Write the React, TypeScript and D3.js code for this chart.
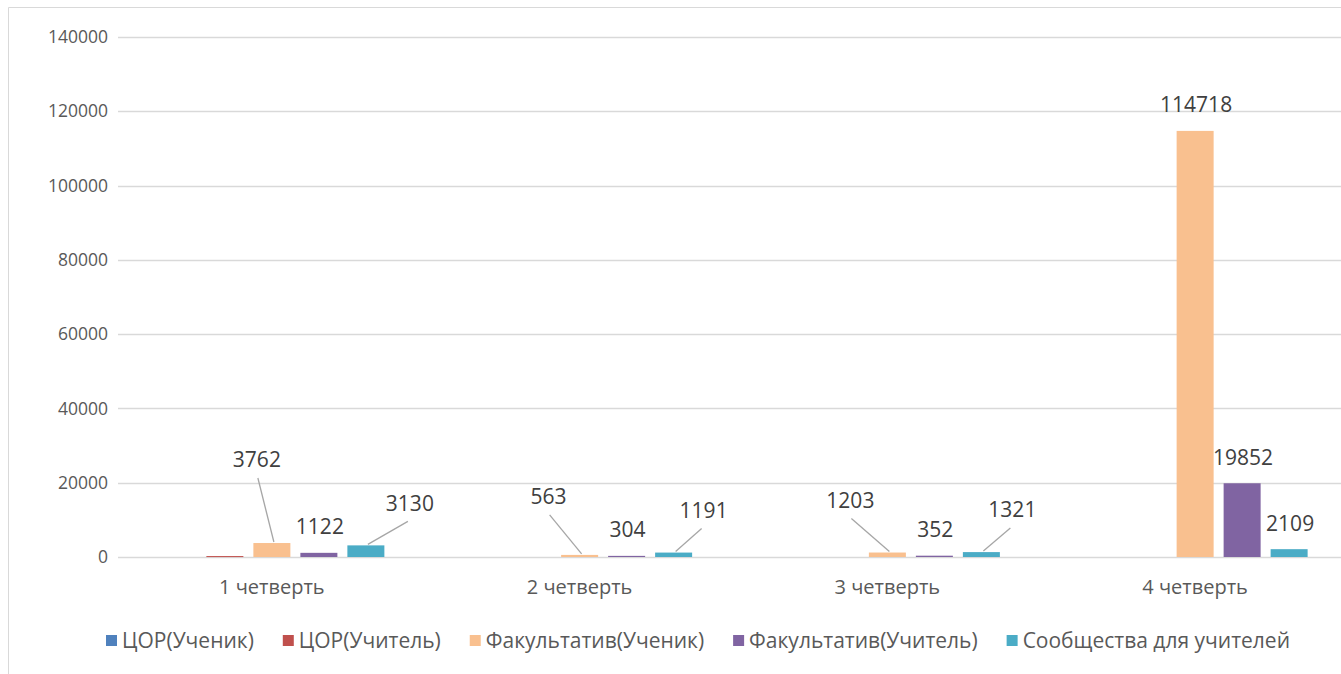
import { useRef, useEffect } from 'react';
import * as d3 from 'd3';

// quarters on the x axis
const quarters = ['1 четверть', '2 четверть', '3 четверть', '4 четверть'];

const seriesNames = [
    'ЦОР(Ученик)',
    'ЦОР(Учитель)',
    'Факультатив(Ученик)',
    'Факультатив(Учитель)',
    'Сообщества для учителей',
];

const seriesColors = ['#4F81BD', '#C0504D', '#F9C08F', '#8064A2', '#4BACC6'];

// values per series, one per quarter
const corStudent = [0, 0, 0, 0];
const corTeacher = [250, 0, 0, 0];
const facStudent = [3762, 563, 1203, 114718];
const facTeacher = [1122, 304, 352, 19852];
const communities = [3130, 1191, 1321, 2109];

const seriesValues = [corStudent, corTeacher, facStudent, facTeacher, communities];

// which series carry data labels
const labelledSeries = [false, false, true, true, true];

const yTicks = [0, 20000, 40000, 60000, 80000, 100000, 120000, 140000];

// label nudges (label centre from bar top), those with a leader line
const labelNudge: Record<string, [number, number, boolean]> = {
    '0-2': [-15, -83, true],
    '0-4': [44, -42, true],
    '1-2': [-31, -58, true],
    '1-4': [30, -42, true],
    '2-2': [-37, -52, true],
    '2-4': [31, -42, true],
};

const W = 1341;
const H = 674;
const FONT = '"Open Sans", sans-serif';

export default function App() {
    const svgRef = useRef<SVGSVGElement | null>(null);

    useEffect(() => {
        if (!svgRef.current) return;
        const svg = d3.select(svgRef.current);
        svg.selectAll('*').remove();

        const x0 = d3.scaleBand().domain(quarters).range([118, 1349]);
        const y = d3.scaleLinear().domain([0, 140000]).range([557, 37]);

        // chart frame (only top + left visible)
        svg.append('line').attr('x1', 8.5).attr('x2', 8.5).attr('y1', 7.5).attr('y2', H)
            .attr('stroke', '#d9d9d9');
        svg.append('line').attr('x1', 8.5).attr('x2', W).attr('y1', 7.5).attr('y2', 7.5)
            .attr('stroke', '#d9d9d9');

        // gridlines
        svg.append('g').selectAll('line').data(yTicks).join('line')
            .attr('x1', 118).attr('x2', W)
            .attr('y1', d => Math.round(y(d)) + 0.5).attr('y2', d => Math.round(y(d)) + 0.5)
            .attr('stroke', '#d9d9d9').attr('stroke-width', 1.3);

        svg.append('g').selectAll('text').data(yTicks).join('text')
            .attr('x', 108).attr('y', d => y(d))
            .attr('dy', '0.35em').attr('text-anchor', 'end')
            .style('font-family', FONT).style('font-size', '17.5px').attr('fill', '#595959')
            .text(d => d);

        svg.append('g').selectAll('text').data(quarters).join('text')
            .attr('x', d => x0(d)! + x0.bandwidth() / 2).attr('y', 587)
            .attr('dy', '0.35em').attr('text-anchor', 'middle')
            .style('font-family', FONT).style('font-size', '20px').attr('fill', '#595959')
            .text(d => d);

        const groupW = 225;
        const x1 = d3.scaleBand<number>().domain(d3.range(seriesNames.length))
            .range([0, groupW]).paddingInner(10 / 47);

        const bars = quarters.flatMap((q, qi) =>
            seriesValues.map((vals, si) => ({ q, qi, si, v: vals[qi] })));

        const barX = (d: { q: string; si: number }) =>
            x0(d.q)! + x0.bandwidth() / 2 - groupW / 2 + x1(d.si)!;

        svg.append('g').selectAll('rect').data(bars.filter(d => d.v > 0)).join('rect')
            .attr('x', d => barX(d))
            .attr('y', d => y(d.v))
            .attr('width', x1.bandwidth())
            .attr('height', d => Math.max(1, y(0) - y(d.v)))
            .attr('fill', d => seriesColors[d.si]);

        // data labels
        const labels = bars.filter(d => labelledSeries[d.si]);
        const lg = svg.append('g');
        labels.forEach(d => {
            const cx = barX(d) + x1.bandwidth() / 2;
            const top = y(d.v);
            const nudge = labelNudge[`${d.qi}-${d.si}`];
            const dx = nudge ? nudge[0] : 1;
            const dy = nudge ? nudge[1] : -26;
            const lx = cx + dx;
            const ly = top + dy;
            if (nudge && nudge[2]) {
                const sx = dx < 0 ? lx + 1 : lx - 2;
                lg.append('line')
                    .attr('x1', sx).attr('y1', ly + 18)
                    .attr('x2', cx + 2).attr('y2', top - 1)
                    .attr('stroke', '#a6a6a6').attr('stroke-width', 1.3);
            }
            lg.append('text')
                .attr('x', lx).attr('y', ly)
                .attr('dy', '0.35em').attr('text-anchor', 'middle')
                .style('font-family', FONT).style('font-size', '21px').attr('fill', '#404040')
                .text(d.v);
        });

        // legend: measure the texts, then spread the items between 106 and 1290
        const leg = svg.append('g');
        const items = seriesNames.map((name, i) => {
            const sq = leg.append('rect').attr('y', 635).attr('width', 11).attr('height', 11)
                .attr('fill', seriesColors[i]);
            const t = leg.append('text').attr('y', 641).attr('dy', '0.35em')
                .style('font-family', FONT).style('font-size', '21px').attr('fill', '#595959')
                .text(name);
            return { sq, t, w: (t.node() as SVGTextElement).getComputedTextLength() };
        });
        const legLeft = 106;
        const legRight = 1290;
        const used = d3.sum(items, d => d.w + 16);
        const gap = (legRight - legLeft - used) / (items.length - 1);
        let lx = legLeft;
        items.forEach(it => {
            it.sq.attr('x', lx);
            it.t.attr('x', lx + 16);
            lx += 16 + it.w + gap;
        });
    }, []);

    return (
        <svg ref={svgRef} width={W} height={H}
            style={{ position: 'absolute', left: 0, top: 0, background: '#fff' }} />
    );
}
